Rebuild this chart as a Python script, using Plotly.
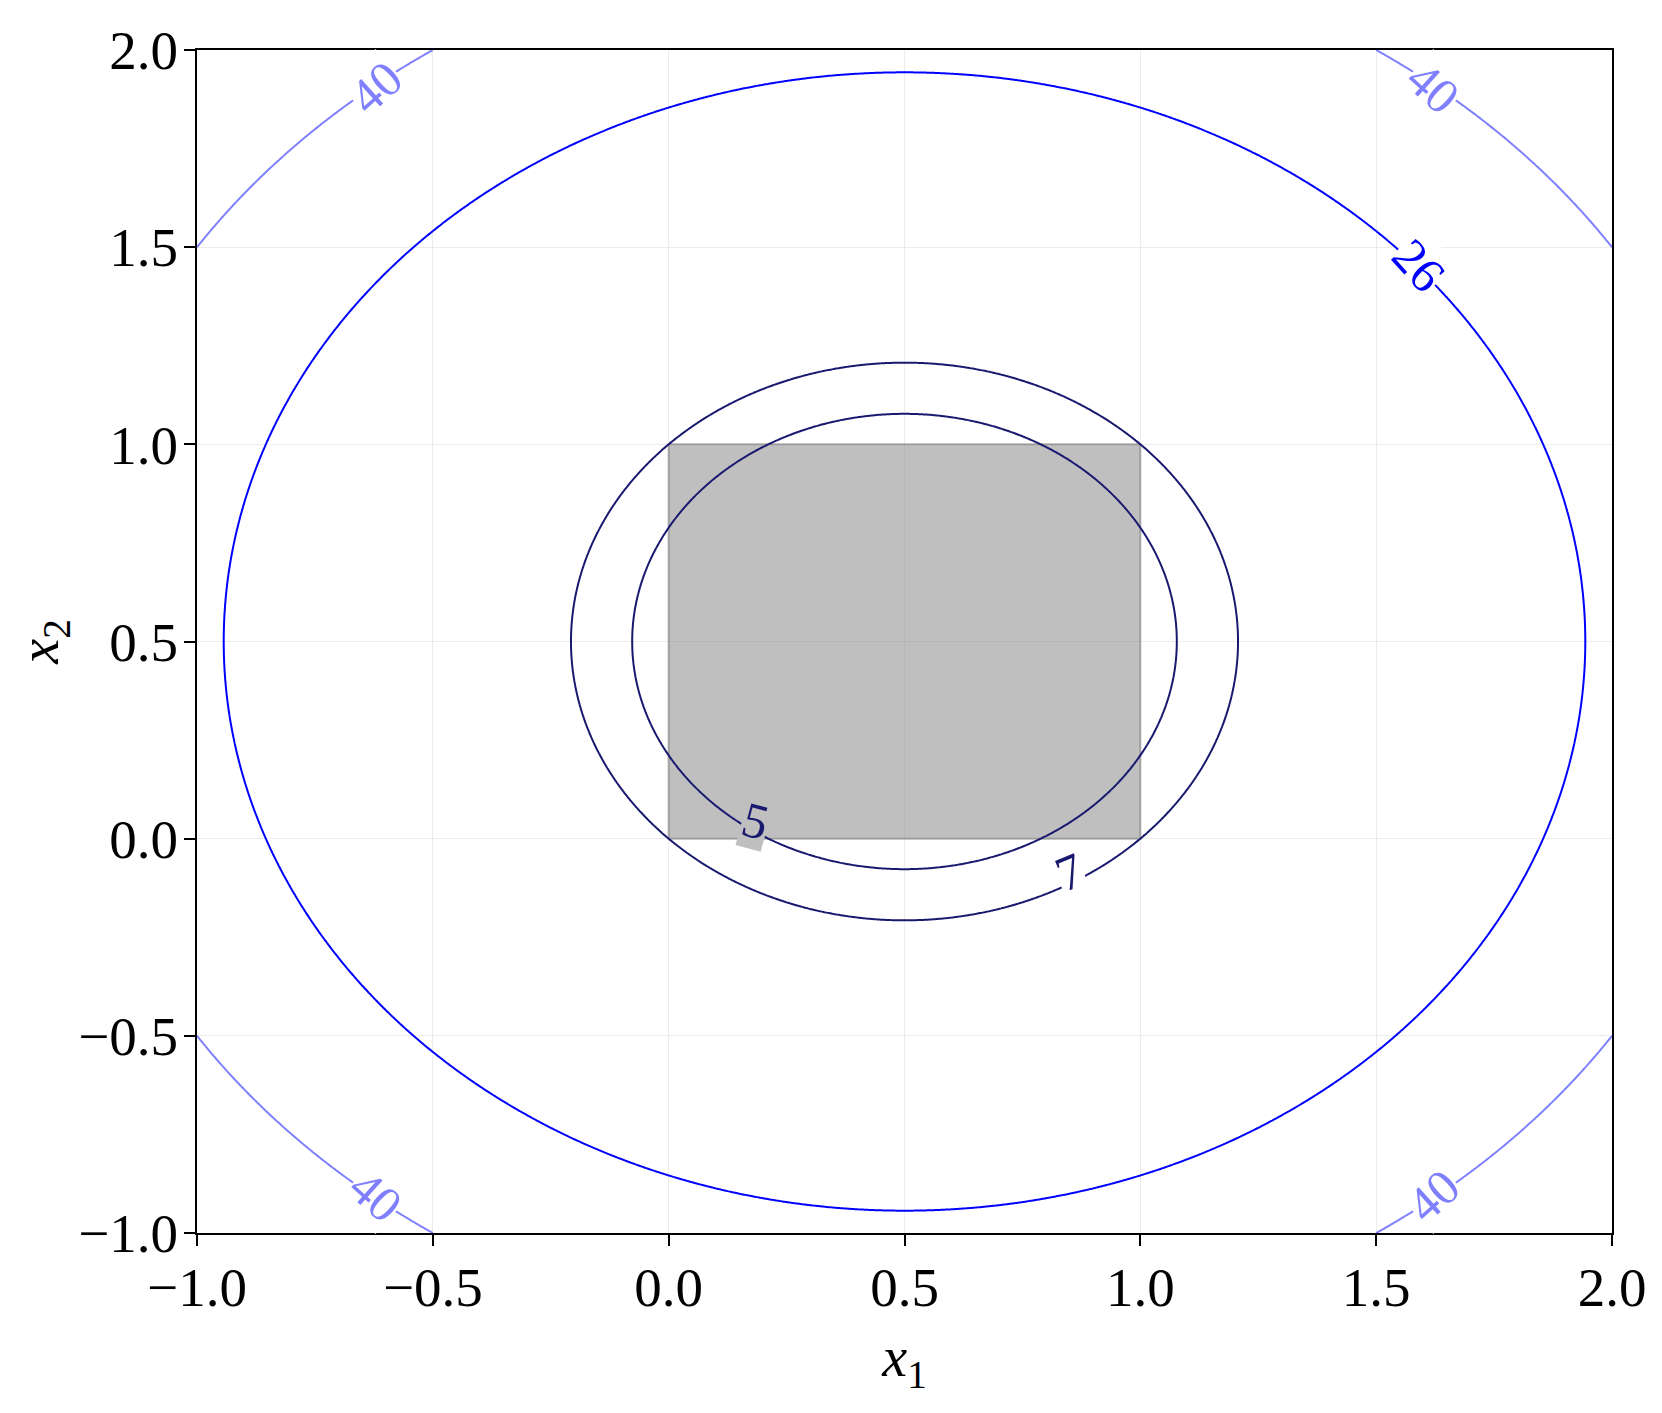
import numpy as np
import plotly.graph_objects as go

# --- data ---
# quadratic bowl f(x1, x2) = f_min + curv * ((x1 - c1)^2 + (x2 - c2)^2)
center = [0.5, 0.5]
f_min = 1.0
curv = 12.0
levels = [5, 7, 26, 40]

# feasible box [0,1] x [0,1]
box_x = [0.0, 1.0]
box_y = [0.0, 1.0]

tick_vals = [-1.0, -0.5, 0.0, 0.5, 1.0, 1.5, 2.0]
tick_text = [f"{v:.1f}".replace("-", "\u2212") for v in tick_vals]

# contour label placement: (level, x1, x2, angle)
label_spots = [
    (5, 0.185, 0.045, 15),
    (7, 0.85, -0.085, -22),
    (26, 1.59, 1.455, 48),
    (40, -0.62, 1.905, -42),
    (40, 1.62, 1.905, 42),
    (40, -0.62, -0.905, 42),
    (40, 1.62, -0.905, -42),
]

# --- styles ---
level_colors = {5: "#191970", 7: "#191970", 26: "#0000ff", 40: "#8080ff"}
FONT = "Liberation Serif"

g = np.linspace(-1, 2, 601)
X1, X2 = np.meshgrid(g, g)
Z = f_min + curv * ((X1 - center[0]) ** 2 + (X2 - center[1]) ** 2)

fig = go.Figure()

for lv in levels:
    fig.add_trace(go.Contour(
        x=g, y=g, z=Z,
        autocontour=False,
        contours=dict(start=lv, end=lv, size=1, coloring="none", showlabels=False),
        line=dict(color=level_colors[lv], width=2),
        showscale=False,
        hoverinfo="skip",
    ))

fig.add_shape(
    type="rect", x0=box_x[0], x1=box_x[1], y0=box_y[0], y1=box_y[1],
    fillcolor="rgba(128,128,128,0.5)",
    line=dict(color="rgba(128,128,128,0.6)", width=2),
    layer="between",
)

for lv, lx, ly, ang in label_spots:
    inside = box_x[0] <= lx <= box_x[1] and box_y[0] <= ly <= box_y[1]
    fig.add_annotation(
        x=lx, y=ly, text=str(lv), showarrow=False, textangle=ang,
        font=dict(family=FONT, size=50, color=level_colors[lv]),
        bgcolor="#bfbfbf" if inside else "white",
        borderpad=0,
    )

axis_common = dict(
    tickvals=tick_vals, ticktext=tick_text,
    tickfont=dict(family=FONT, size=55, color="black"),
    ticks="outside", ticklen=11, tickwidth=2, tickcolor="black",
    showline=True, linecolor="black", linewidth=2, mirror=True,
    showgrid=True, gridcolor="#ececec", gridwidth=1,
    zeroline=False,
)

fig.update_xaxes(
    range=[-1, 2], **axis_common, ticklabelstandoff=-6,
    title=dict(text="<i>x</i><sub>1</sub>", font=dict(family=FONT, size=56, color="black"), standoff=20),
)
fig.update_yaxes(
    range=[-1, 2], **axis_common, ticklabelstandoff=-5,
    title=dict(text="<i>x</i><sub>2</sub>", font=dict(family=FONT, size=56, color="black"), standoff=17),
)

fig.update_layout(
    width=1662, height=1413,
    margin=dict(l=189, r=58, t=40, b=188),
    plot_bgcolor="white", paper_bgcolor="white",
    showlegend=False,
)

fig.write_html("out.html")
